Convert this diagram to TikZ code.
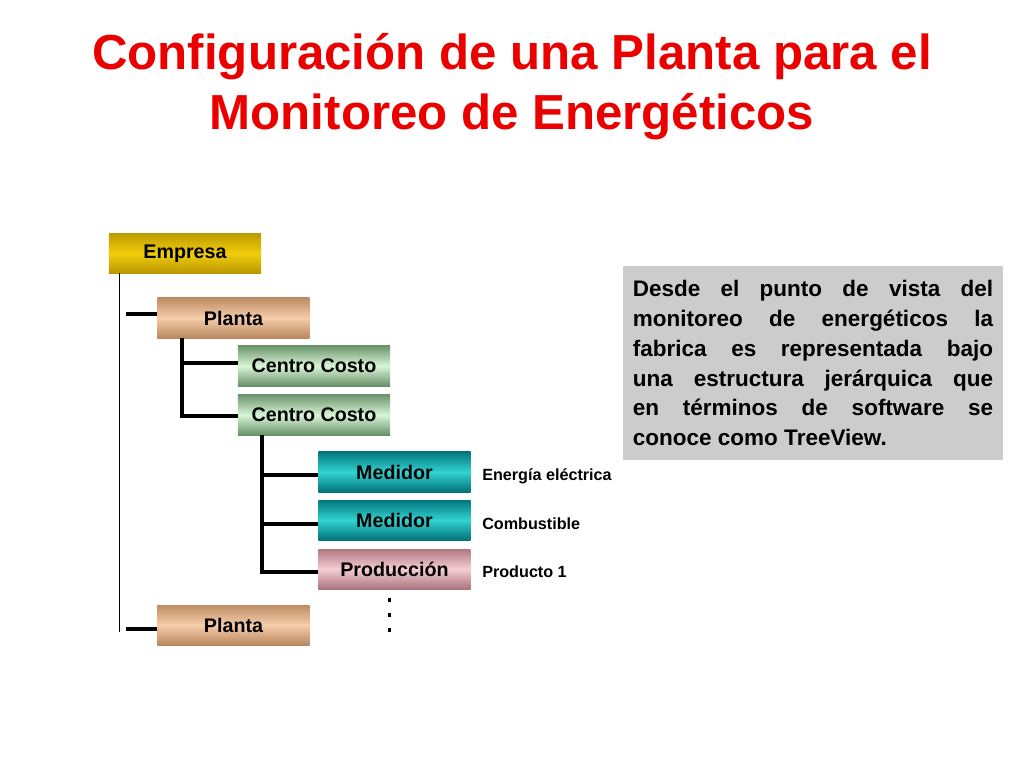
\documentclass[tikz,border=0pt]{standalone}
\usepackage{fontspec}
\setmainfont{Liberation Sans}
\usetikzlibrary{positioning}
\definecolor{titlered}{RGB}{235,0,0}
\tikzset{
  treebox/.style={minimum width=3.8cm, minimum height=1cm, inner sep=0pt,
    font=\bfseries\fontsize{14}{16}\selectfont},
  empresabox/.style={treebox, top color={rgb,255:red,190;green,155;blue,0}, bottom color={rgb,255:red,185;green,150;blue,0}, middle color={rgb,255:red,240;green,205;blue,10}},
  plantabox/.style={treebox, top color={rgb,255:red,190;green,140;blue,100}, bottom color={rgb,255:red,185;green,135;blue,95}, middle color={rgb,255:red,245;green,205;blue,170}},
  centrobox/.style={treebox, top color={rgb,255:red,110;green,150;blue,110}, bottom color={rgb,255:red,105;green,145;blue,105}, middle color={rgb,255:red,215;green,245;blue,215}},
  medidorbox/.style={treebox, top color={rgb,255:red,0;green,120;blue,125}, bottom color={rgb,255:red,0;green,115;blue,120}, middle color={rgb,255:red,50;green,210;blue,210}},
  prodbox/.style={treebox, top color={rgb,255:red,175;green,120;blue,130}, bottom color={rgb,255:red,170;green,115;blue,125}, middle color={rgb,255:red,245;green,205;blue,210}},
  tag/.style={anchor=west, inner sep=0pt, font=\bfseries\fontsize{11.5}{13}\selectfont},
  branch/.style={line width=2.2pt},
}
\begin{document}
\begin{tikzpicture}[x=0.025cm, y=-0.025cm]
  \useasboundingbox (0,0) rectangle (1024,768);
  \node[align=center, text=titlered, font=\bfseries\fontsize{35}{42.5}\selectfont] (title) at (512,87)
    {Configuración de una Planta para el\\Monitoreo de Energéticos};

  \node[empresabox] (empresa) at (185,253.5) {Empresa};
  \node[plantabox] (planta1) at (233.5,318) {Planta};
  \node[centrobox] (centro1) at (314,366) {Centro Costo};
  \node[centrobox] (centro2) at (314,415) {Centro Costo};
  \node[medidorbox] (medidor1) at (394.5,472) {Medidor};
  \node[medidorbox] (medidor2) at (394.5,520) {Medidor};
  \node[prodbox] (produccion) at (394.5,569) {Producción};
  \node[plantabox] (planta2) at (233.5,625) {Planta};

  \node[tag] (energia) at (482,476) {Energía eléctrica};
  \node[tag] (combustible) at (482,524) {Combustible};
  \node[tag] (producto) at (482,572) {Producto 1};

  \coordinate (trunk) at (119,273);
  \draw[line width=0.6pt] (trunk) -- (119,632);
  \draw[branch] (126,314) -- (planta1.west |- 126,314);
  \draw[branch] (126,629) -- (planta2.west |- 126,629);
  \draw[branch] (182,338) -- (182,416) -- (centro2.west |- 182,416);
  \draw[branch] (182,363) -- (centro1.west |- 182,363);
  \draw[branch] (262,435) -- (262,572) -- (produccion.west |- 262,572);
  \draw[branch] (262,475) -- (medidor1.west |- 262,475);
  \draw[branch] (262,524) -- (medidor2.west |- 262,524);

  \foreach \y in {600,615,630}
    \fill (387.5,\y-2) rectangle (391,\y+2);

  \node[fill={rgb,255:red,204;green,204;blue,204}, minimum width=9.5cm, minimum height=4.85cm,
        text width=9.0cm, align=justify, inner sep=0pt,
        font=\bfseries\fontsize{16}{21.3}\selectfont] (nota) at (813,363)
    {Desde el punto de vista del\linebreak monitoreo de energéticos la\linebreak fabrica es representada bajo\linebreak una estructura jerárquica que\linebreak en términos de software se\linebreak conoce como TreeView.};
\end{tikzpicture}
\end{document}
